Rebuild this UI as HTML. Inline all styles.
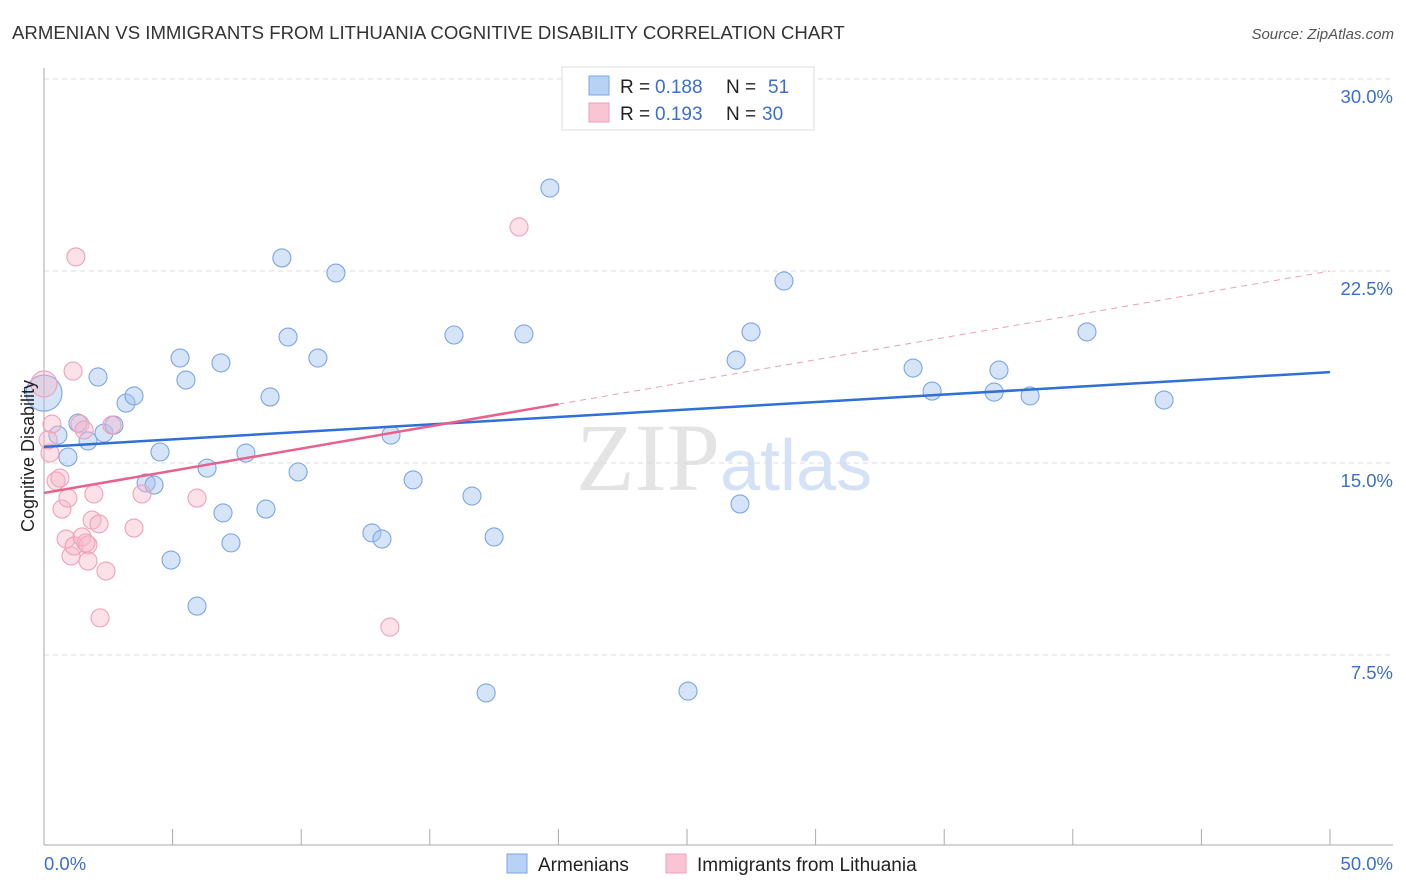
<!DOCTYPE html>
<html><head><meta charset="utf-8"><style>
body{margin:0;background:#fff;font-family:"Liberation Sans",sans-serif;}
svg{display:block}
</style></head><body>
<svg id="chart" width="1406" height="892">
<text x="12" y="39" font-size="18.6" fill="#333">ARMENIAN VS IMMIGRANTS FROM LITHUANIA COGNITIVE DISABILITY CORRELATION CHART</text>
<text x="1394" y="39" font-size="15" fill="#555" text-anchor="end" font-style="italic">Source: ZipAtlas.com</text>
<text x="720" y="490" font-size="96" fill="#e4e4e4" text-anchor="end" font-family="Liberation Serif">ZIP</text>
<text x="720" y="490" font-size="72" fill="#d5e2f5">atlas</text>
<g id="grid"></g><g id="axes"></g><g id="pts"></g><g id="trends"></g>
<text transform="translate(34,456) rotate(-90)" font-size="18" fill="#222" text-anchor="middle">Cognitive Disability</text>
<g>
<rect x="562" y="67" width="252" height="63" fill="#fff" stroke="#ddd"/>
<rect x="589" y="76" width="20" height="19" fill="#b8d2f6" stroke="#7aa6e6"/>
<rect x="589" y="103" width="20" height="19" fill="#f9c4d3" stroke="#ef9fb8"/>
<text x="620" y="93" font-size="19" fill="#222">R =</text>
<text x="655" y="93" font-size="19" fill="#3a6fd0">0.188</text>
<text x="726" y="93" font-size="19" fill="#222">N =</text>
<text x="768" y="93" font-size="19" fill="#3a6fd0">51</text>
<text x="620" y="120" font-size="19" fill="#222">R =</text>
<text x="655" y="120" font-size="19" fill="#3a6fd0">0.193</text>
<text x="726" y="120" font-size="19" fill="#222">N =</text>
<text x="762" y="120" font-size="19" fill="#3a6fd0">30</text>
</g>
<g>
<rect x="507" y="854" width="20" height="19" fill="#b8d2f6" stroke="#7aa6e6"/>
<text x="538" y="871" font-size="19" fill="#222">Armenians</text>
<rect x="666" y="854" width="20" height="19" fill="#f9c4d3" stroke="#ef9fb8"/>
<text x="697" y="871" font-size="19" fill="#222">Immigrants from Lithuania</text>
</g>
</svg>
<script>
const blueX=[0,0.54,0.93,1.32,1.71,2.10,2.33,2.72,3.19,3.50,3.97,4.28,4.51,4.94,5.29,5.52,5.95,6.34,6.88,6.96,7.27,7.85,8.63,8.79,9.25,9.49,9.88,10.65,11.35,12.75,13.14,13.49,14.35,15.94,16.64,17.19,17.50,18.66,19.67,25.04,26.91,27.06,27.49,28.77,33.79,34.53,36.94,37.13,38.34,40.55,43.55];
const blueY=[17.73,16.09,15.23,16.56,15.86,18.36,16.17,16.48,17.34,17.62,14.22,14.14,15.43,11.21,19.10,18.24,9.41,14.80,18.91,13.05,11.88,15.39,13.20,17.58,23.01,19.92,14.65,19.10,22.42,12.27,12.03,16.09,14.34,20.00,13.71,6.02,12.11,20.04,25.74,6.09,19.02,13.40,20.12,22.11,18.71,17.81,17.77,18.63,17.62,20.12,17.46];
const pinkX=[0,0.31,0.23,0.47,0.62,0.70,0.86,0.93,1.05,1.17,1.13,1.24,1.40,1.56,1.48,1.71,1.71,1.87,1.94,2.14,2.18,2.41,2.64,3.50,3.81,5.95,13.45,18.47,0.16,1.63];
const pinkY=[18.09,16.52,15.39,14.30,14.41,13.20,12.03,13.63,11.37,11.76,18.59,23.05,16.52,16.29,12.11,11.80,11.17,12.77,13.79,12.62,8.95,10.78,16.48,12.46,13.79,13.63,8.59,24.22,15.90,11.88];
const yTicks=[7.5,15,22.5,30];
const yTickLabels=["7.5%","15.0%","22.5%","30.0%"];
const xTickVals=[0,5,10,15,20,25,30,35,40,45,50];
const blueTrend=[15.63,18.55];
const pinkTrend=[13.83,22.5];
const pinkSolidEnd=20;
const X=v=>44+v*25.72, Y=v=>847-v*25.6;
const NS="http://www.w3.org/2000/svg";
function mk(t,a,p){const e=document.createElementNS(NS,t);for(const k in a)e.setAttribute(k,a[k]);p.appendChild(e);return e;}
const grid=document.getElementById('grid'),axes=document.getElementById('axes'),pts=document.getElementById('pts'),tr=document.getElementById('trends');
yTicks.forEach((v,i)=>{
 const l=mk('line',{x1:44,x2:1393,y1:Y(v),y2:Y(v),stroke:'#ddd','stroke-dasharray':'5,4'},grid);
 
 
 const t=mk('text',{x:1393,y:Y(v)+24,'font-size':18.5,fill:'#3a6fd0','text-anchor':'end'},grid);
 t.textContent=yTickLabels[i];
 
 
});
let a=mk('line',{x1:44,x2:44,y1:68,y2:845,stroke:'#aaa'},axes);


a=mk('line',{x1:44,x2:1393,y1:845,y2:845,stroke:'#aaa'},axes);


xTickVals.forEach(v=>{const l=mk('line',{x1:X(v),x2:X(v),y1:829,y2:845,stroke:'#aaa'},axes);
 
 });
let t=mk('text',{x:44,y:870,'font-size':18.5,fill:'#3a6fd0'},axes);t.textContent='0.0%';


t=mk('text',{x:1393,y:870,'font-size':18.5,fill:'#3a6fd0','text-anchor':'end'},axes);t.textContent='50.0%';


function dots(xs,ys,fill,stroke,name,bigR){xs.forEach((x,i)=>{const c=mk('circle',{cx:X(x),cy:Y(ys[i]),r:i===0?bigR:9,fill:fill,stroke:stroke,'stroke-width':1.1},pts);
 
 });}
dots(blueX,blueY,'rgba(164,196,240,0.45)','#7aa6e6','armenian-point',18);
dots(pinkX,pinkY,'rgba(248,180,200,0.4)','#f0a0b8','lithuania-point',13);
let l=mk('line',{x1:X(0),y1:Y(blueTrend[0]),x2:X(50),y2:Y(blueTrend[1]),stroke:'#2f6fd6','stroke-width':2.5},tr);


const pm=(pinkTrend[1]-pinkTrend[0])/50;
l=mk('line',{x1:X(0),y1:Y(pinkTrend[0]),x2:X(pinkSolidEnd),y2:Y(pinkTrend[0]+pm*pinkSolidEnd),stroke:'#e8608c','stroke-width':2.5},tr);


l=mk('line',{x1:X(pinkSolidEnd),y1:Y(pinkTrend[0]+pm*pinkSolidEnd),x2:X(50),y2:Y(pinkTrend[1]),stroke:'#e8a0b8','stroke-width':1,'stroke-dasharray':'6,5'},tr);


</script>
</body></html>
